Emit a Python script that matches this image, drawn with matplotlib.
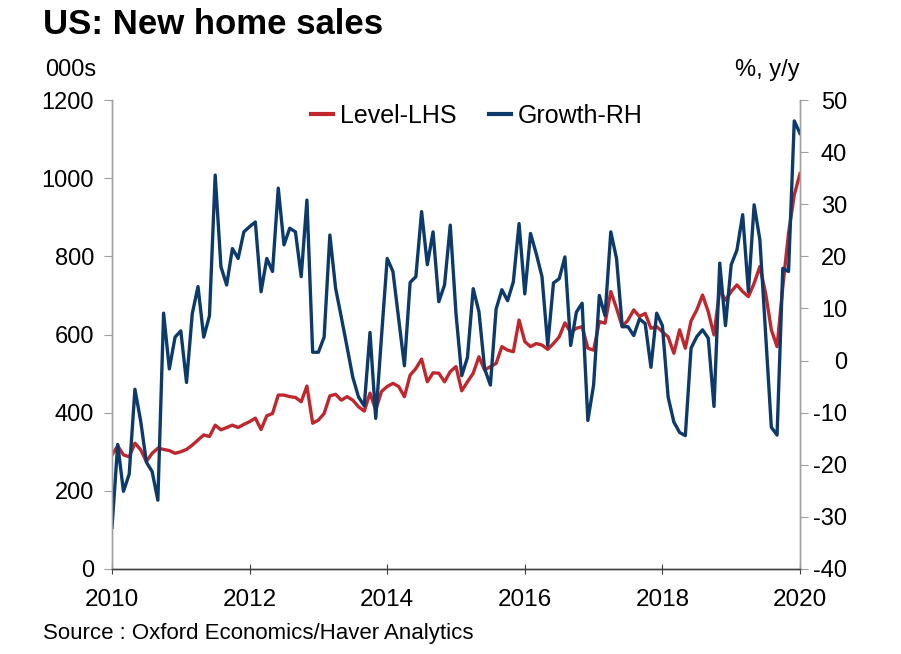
import numpy as np
import matplotlib
matplotlib.use("Agg")
import matplotlib.pyplot as plt

plt.rcParams["font.family"] = ["Liberation Sans", "DejaVu Sans"]
plt.rcParams["axes.unicode_minus"] = False

# monthly readings, Jan 2010 .. Jan 2020
level = [
    292, 315, 292, 287, 322, 305, 275, 296, 309, 306,
    303, 296, 300, 306, 317, 330, 343, 339, 368, 356,
    362, 368, 362, 370, 377, 386, 357, 392, 398, 445,
    445, 441, 439, 428, 468, 373, 381, 398, 443, 447,
    432, 441, 432, 415, 404, 450, 407, 454, 467, 475,
    467, 441, 496, 513, 537, 479, 502, 501, 479, 505,
    518, 456, 479, 501, 543, 509, 518, 526, 569, 560,
    556, 637, 582, 569, 577, 573, 562, 577, 594, 630,
    605, 616, 620, 565, 560, 633, 629, 710, 667, 620,
    637, 663, 646, 654, 616, 620, 607, 594, 552, 612,
    565, 635, 663, 701, 658, 599, 714, 688, 710, 727,
    710, 697, 731, 774, 706, 612, 569, 722, 859, 957,
    1012,
]
growth = [
    -32.0, -16.1, -25.1, -21.8, -5.5, -11.6, -19.5, -21.3, -26.8, 9.1,
    -1.6, 4.5, 5.7, -4.2, 9.0, 14.2, 4.5, 8.6, 35.6, 18.0,
    14.5, 21.5, 19.6, 24.7, 25.7, 26.6, 13.2, 19.6, 17.1, 33.1,
    22.2, 25.4, 24.7, 16.1, 30.8, 1.6, 1.6, 4.5, 24.1, 13.9,
    8.3, 2.6, -3.2, -7.0, -8.7, 5.4, -11.1, 4.5, 19.6, 17.1,
    8.0, -1.0, 15.0, 16.1, 28.6, 18.4, 24.7, 11.3, 14.5, 26.0,
    9.0, -2.9, 0.6, 13.8, 9.4, -1.6, -4.7, 9.9, 13.6, 11.5,
    15.1, 26.3, 12.8, 24.4, 20.5, 16.1, 2.9, 14.9, 15.7, 19.9,
    2.9, 9.3, 11.0, -11.5, -4.7, 12.5, 8.6, 24.7, 19.6, 6.5,
    6.5, 4.8, 8.0, 7.1, -1.3, 9.1, 6.7, -7.0, -11.8, -13.8,
    -14.4, 2.4, 4.6, 5.9, 4.3, -8.8, 18.7, 6.7, 18.4, 21.2,
    28.0, 13.2, 29.9, 23.2, 5.2, -12.8, -14.3, 17.7, 17.1, 46.0,
    43.6,
]
year_ticks = [2010, 2012, 2014, 2016, 2018, 2020]
left_ticks = [0, 200, 400, 600, 800, 1000, 1200]
right_ticks = [-40, -30, -20, -10, 0, 10, 20, 30, 40, 50]

RED = "#c0272d"
BLUE = "#0c3b6b"
GREY = "#a0a0a0"

x = 2010 + np.arange(len(level)) / 12.0

fig = plt.figure(figsize=(9.01, 6.54), dpi=100)
ax = fig.add_axes([0.1243, 0.130, 0.7636, 0.717])
ax2 = ax.twinx()

l1, = ax.plot(x, level, color=RED, lw=2.4, label="Level-LHS")
l2, = ax2.plot(x, growth, color=BLUE, lw=2.4, label="Growth-RH")

ax.set_xlim(2010, 2020)
ax.set_ylim(0, 1200)
ax2.set_ylim(-40, 50)
ax.set_xticks(year_ticks)
ax.set_yticks(left_ticks)
ax2.set_yticks(right_ticks)

for a in (ax, ax2):
    a.spines["top"].set_visible(False)
    a.spines["left"].set_color(GREY)
    a.spines["right"].set_color(GREY)
    a.spines["bottom"].set_color("#404040")
    for s in a.spines.values():
        s.set_linewidth(1.0)

ax.tick_params(axis="y", direction="out", length=6, color=GREY,
               labelsize=17, pad=7)
ax.tick_params(axis="x", direction="inout", length=7, color="#404040",
               labelsize=17.5, pad=11)
ax2.tick_params(axis="y", direction="out", length=6, color=GREY,
                labelsize=17, pad=28)
for t in ax2.get_yticklabels():
    t.set_horizontalalignment("right")

ax.legend(handles=[l1, l2], loc="upper center", bbox_to_anchor=(0.53, 1.04),
          ncol=2, frameon=False, fontsize=18, handlelength=0.9,
          handletextpad=0.25, columnspacing=1.3)
for h in ax.get_legend().get_lines():
    h.set_linewidth(3)

fig.text(0.048, 0.962, "US: New home sales", fontsize=25, fontweight="bold",
         ha="left", va="center")
fig.text(0.05, 0.893, "000s", fontsize=17, ha="left", va="center")
fig.text(0.888, 0.893, "%, y/y", fontsize=17, ha="right", va="center")
fig.text(0.048, 0.031, "Source : Oxford Economics/Haver Analytics",
         fontsize=16, ha="left", va="center")

fig.savefig("out.png", dpi=100)
